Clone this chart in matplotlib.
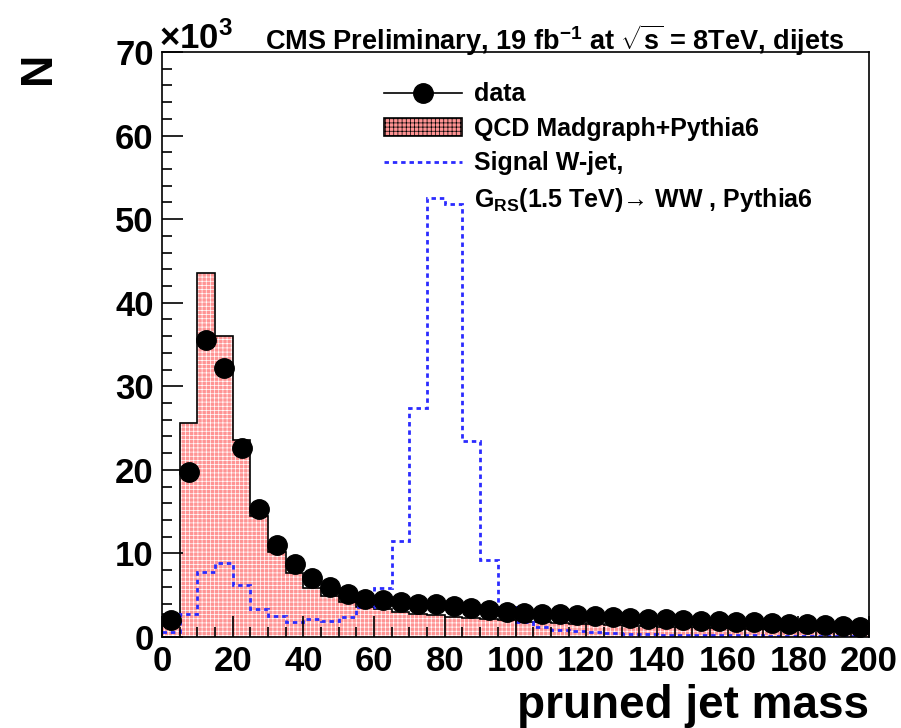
import numpy as np
import matplotlib
matplotlib.use('Agg')
import matplotlib.pyplot as plt
from matplotlib.lines import Line2D
from matplotlib.patches import Patch

plt.rcParams['font.family'] = ['Liberation Sans', 'DejaVu Sans']
plt.rcParams['font.weight'] = 'bold'
plt.rcParams['mathtext.fontset'] = 'custom'
plt.rcParams['mathtext.rm'] = 'Liberation Sans:bold'
plt.rcParams['mathtext.bf'] = 'Liberation Sans:bold'
plt.rcParams['mathtext.it'] = 'Liberation Sans:bold:italic'
plt.rcParams['mathtext.sf'] = 'Liberation Sans:bold'
plt.rcParams['hatch.linewidth'] = 0.5

# pruned jet mass binning, 5 GeV bins from 0 to 200
edges = np.arange(0, 205, 5)
centers = edges[:-1] + 2.5

# event counts in units of 10^3
data = [2.0, 19.8, 35.5, 32.2, 22.6, 15.3, 11.0, 8.7, 7.0, 6.0,
        5.2, 4.6, 4.4, 4.2, 4.0, 3.9, 3.7, 3.5, 3.2, 3.0,
        2.9, 2.8, 2.7, 2.6, 2.5, 2.4, 2.3, 2.2, 2.1, 2.0,
        1.95, 1.9, 1.8, 1.75, 1.7, 1.6, 1.5, 1.45, 1.35, 1.25]
qcd = [2.7, 25.6, 43.5, 36.0, 23.6, 14.5, 10.2, 7.6, 5.9, 4.9,
       4.2, 3.6, 3.3, 3.0, 2.8, 2.6, 2.45, 2.3, 2.15, 2.0,
       1.85, 1.75, 1.65, 1.55, 1.5, 1.4, 1.35, 1.3, 1.25, 1.2,
       1.15, 1.1, 1.05, 1.0, 0.95, 0.9, 0.85, 0.8, 0.75, 0.7]
signal = [0.6, 2.8, 7.8, 8.9, 6.2, 3.3, 2.5, 1.75, 2.15, 1.9,
          2.4, 3.55, 5.9, 11.5, 27.4, 52.5, 51.8, 23.4, 9.2, 3.6,
          1.8, 1.25, 0.85, 0.75, 0.65, 0.5, 0.35, 0.3, 0.28, 0.25,
          0.22, 0.2, 0.2, 0.18, 0.16, 0.15, 0.14, 0.12, 0.1, 0.1]

qcd_fill = '#ff9494'
sig_color = '#2b2bff'
sig_dash = (0, (1.6, 1.4))

fig = plt.figure(figsize=(9.01, 7.28), dpi=100)
ax = fig.add_axes([0.1798, 0.125, 0.7847, 0.8036])

# QCD background: hatched red fill plus black outline
ax.stairs(qcd, edges, fill=True, facecolor=qcd_fill, edgecolor='white',
          hatch='++++', linewidth=0)
ax.stairs(qcd, edges, color='black', linewidth=1.2, baseline=0)

# signal shape
ax.stairs(signal, edges, color=sig_color, linewidth=2.0,
          linestyle=sig_dash, baseline=None)

# data points
ax.errorbar(centers, data, xerr=2.5, fmt='o', color='black', ms=14,
            elinewidth=1.2, capsize=0, zorder=5)

ax.set_xlim(0, 200)
ax.set_ylim(0, 70)
ax.set_xticks(np.arange(0, 201, 20))
ax.set_xticks(np.arange(0, 201, 5), minor=True)
ax.set_yticks(np.arange(0, 71, 10))
ax.set_yticks(np.arange(0, 71, 2), minor=True)
ax.tick_params(which='both', direction='in', top=False, right=False,
               labelsize=25, width=1.2)
ax.tick_params(which='major', length=15, pad=6)
ax.tick_params(which='minor', length=7)
for lab in ax.get_xticklabels() + ax.get_yticklabels():
    lab.set_fontweight('bold')
for sp in ax.spines.values():
    sp.set_linewidth(1.2)

ax.set_xlabel('pruned jet mass', fontsize=33, fontweight='bold', loc='right',
              labelpad=4)
ax.set_ylabel('N', fontsize=32, fontweight='bold', loc='top', labelpad=40)

fig.text(0.177, 0.947, r'$\times$10$^{3}$', fontsize=25, fontweight='bold',
         ha='left', va='center')
fig.text(0.294, 0.945,
         r'CMS Preliminary, 19 fb$^{-1}$ at $\sqrt{\mathrm{s}}$ = 8TeV, dijets',
         fontsize=19.5, fontweight='bold', ha='left', va='center')

handles = [
    Line2D([], [], color='black', marker='o', ms=14, linewidth=1.2),
    Patch(facecolor=qcd_fill, edgecolor='black', hatch='++++', linewidth=1.2),
    Line2D([], [], color=sig_color, linewidth=2.0, linestyle=sig_dash),
    Line2D([], [], linestyle='none'),
]
labels = [
    'data',
    'QCD Madgraph+Pythia6',
    'Signal W-jet,',
    'G$_{\\mathrm{RS}}$(1.5 TeV)\u2192 WW , Pythia6',
]
leg = ax.legend(handles, labels, loc='upper left',
                bbox_to_anchor=(0.3, 0.965), frameon=False, fontsize=18,
                handlelength=3.1, handletextpad=0.5, labelspacing=0.42,
                borderaxespad=0)
for t in leg.get_texts():
    t.set_fontweight('bold')

fig.savefig('out.png', dpi=100)
